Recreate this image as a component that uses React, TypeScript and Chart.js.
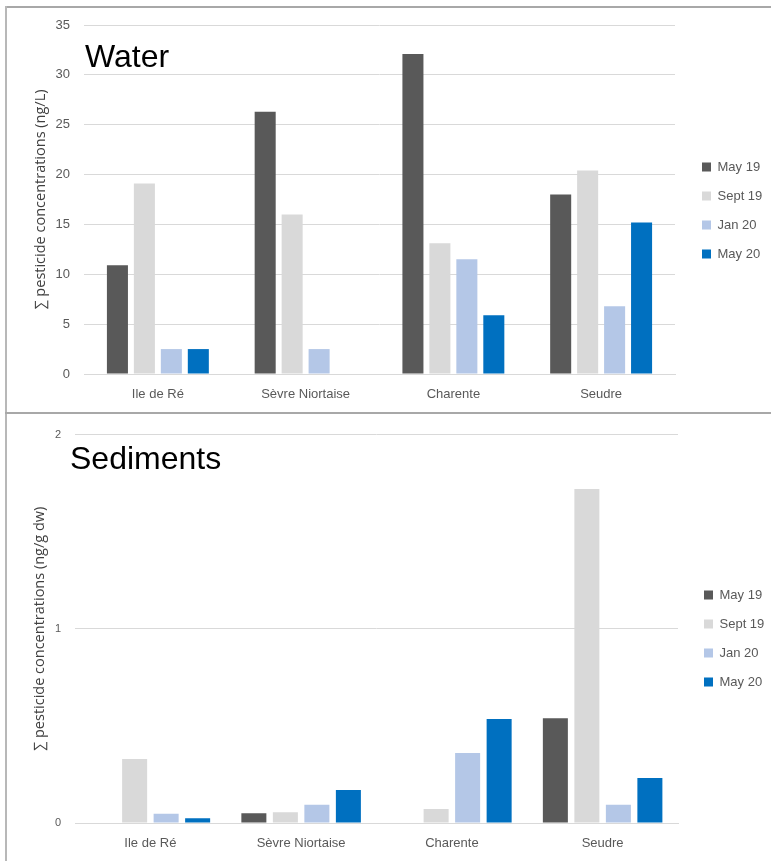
import React, { useEffect, useRef } from "react";
import { Chart, registerables } from "chart.js";

Chart.register(...registerables);

// ---------- data ----------
const categories = ["Ile de Ré", "Sèvre Niortaise", "Charente", "Seudre"];
const seriesNames = ["May 19", "Sept 19", "Jan 20", "May 20"];

const waterMay19 = [10.9, 26.3, 32.1, 18.0];
const waterSept19 = [19.1, 16.0, 13.1, 20.4];
const waterJan20 = [2.5, 2.5, 11.5, 6.8];
const waterMay20 = [2.5, null, 5.9, 15.2];

const sedMay19 = [null, 0.05, null, 0.54];
const sedSept19 = [0.33, 0.055, 0.072, 1.72];
const sedJan20 = [0.048, 0.094, 0.36, 0.094];
const sedMay20 = [0.024, 0.17, 0.535, 0.232];

const waterAxisMax = 35;
const waterAxisStep = 5;
const sedAxisMax = 2;
const sedAxisStep = 1;

const waterAxisTitle = "∑ pesticide concentrations (ng/L)";
const sedAxisTitle = "∑ pesticide concentrations (ng/g dw)";

// ---------- styles ----------
const seriesColors = ["#595959", "#d9d9d9", "#b4c7e7", "#0070c0"];
const FONT = "'Liberation Sans', Arial, sans-serif";
const TITLE_FONT = "'Open Sans', 'Noto Sans', sans-serif";
const TEXT_GRAY = "#595959";
const GRID = "#d9d9d9";

type PanelProps = {
  top: number;
  height: number;
  series: (number | null)[][];
  yMax: number;
  yStep: number;
  yTitle: string;
  plotLeft: number;
  plotRight: number;
  plotTop: number;
  xAxisHeight: number;
  yTickSize: number;
  yTitleCenterX: number;
  categoryPct: number;
  barPct: number;
  legendBoxX: number;
  legendFirstY: number;
};

function Panel(p: PanelProps) {
  const ref = useRef<HTMLCanvasElement | null>(null);
  useEffect(() => {
    if (!ref.current) return;
    const W = 771;
    const legendWidth = W - p.plotRight;
    const legendPadding = 16;
    const legendFontSize = 13;
    const placer = {
      id: "legendPlacer",
      beforeLayout(chart: any) {
        const lg = chart.legend;
        if (lg && !lg.__wrapped) {
          const orig = lg.fit;
          lg.fit = function () {
            orig.call(this);
            this.width = legendWidth;
          };
          lg.__wrapped = true;
        }
      },
      afterLayout(chart: any) {
        const lg = chart.legend;
        if (!lg) return;
        lg.left = p.legendBoxX - legendPadding;
        lg.right = lg.left + lg.width;
        lg.top = p.legendFirstY - legendFontSize / 2 - legendPadding;
        lg.bottom = lg.top + 200;
      },
    };
    const titleSize = 14.5;
    const titleLine = titleSize * 1.2;
    const chart = new Chart(ref.current, {
      type: "bar",
      data: {
        labels: categories,
        datasets: p.series.map((s, i) => ({
          label: seriesNames[i],
          data: s as any,
          backgroundColor: seriesColors[i],
          borderWidth: 0,
          categoryPercentage: p.categoryPct,
          barPercentage: p.barPct,
        })),
      },
      options: {
        animation: false,
        responsive: true,
        maintainAspectRatio: false,
        layout: { padding: { left: 0, right: 0, top: p.plotTop, bottom: 0 } },
        plugins: {
          legend: {
            position: "right",
            align: "start",
            labels: {
              boxWidth: 9,
              boxHeight: 9,
              padding: legendPadding,
              color: TEXT_GRAY,
              font: { family: FONT, size: legendFontSize },
            },
          },
          tooltip: { enabled: false },
        },
        scales: {
          x: {
            grid: { display: false, drawTicks: false },
            border: { display: true, color: GRID, width: 1 },
            ticks: { padding: 13, color: TEXT_GRAY, font: { family: FONT, size: 13 } },
            afterFit: (s: any) => {
              s.height = p.xAxisHeight;
            },
          },
          y: {
            min: 0,
            max: p.yMax,
            ticks: {
              stepSize: p.yStep,
              padding: 14,
              color: TEXT_GRAY,
              font: { family: FONT, size: p.yTickSize },
            },
            grid: { color: GRID, drawTicks: false, lineWidth: 1 },
            border: { display: false },
            title: {
              display: true,
              text: p.yTitle,
              color: "#404040",
              font: { family: TITLE_FONT, size: titleSize },
              padding: { top: p.yTitleCenterX - titleLine / 2, bottom: 0 },
            },
            afterFit: (s: any) => {
              s.width = p.plotLeft;
            },
          },
        },
      },
      plugins: [placer as any],
    });
    return () => chart.destroy();
  }, []);
  return (
    <div
      style={{
        position: "absolute",
        left: 0,
        top: p.top,
        width: 771,
        height: p.height,
      }}
    >
      <canvas ref={ref} />
    </div>
  );
}

const titleStyle: React.CSSProperties = {
  position: "absolute",
  fontFamily: FONT,
  fontSize: 32,
  lineHeight: 1,
  color: "#000",
  whiteSpace: "nowrap",
  pointerEvents: "none",
};

export default function App() {
  return (
    <div
      style={{
        position: "absolute",
        left: 0,
        top: 0,
        width: 771,
        height: 861,
        background: "#fff",
        overflow: "hidden",
      }}
    >
      <Panel
        top={0}
        height={412}
        series={[waterMay19, waterSept19, waterJan20, waterMay20]}
        yMax={waterAxisMax}
        yStep={waterAxisStep}
        yTitle={waterAxisTitle}
        plotLeft={84}
        plotRight={675}
        plotTop={25}
        xAxisHeight={38}
        yTickSize={13}
        yTitleCenterX={41}
        categoryPct={0.73}
        barPct={0.78}
        legendBoxX={702}
        legendFirstY={167}
      />
      <Panel
        top={414}
        height={447}
        series={[sedMay19, sedSept19, sedJan20, sedMay20]}
        yMax={sedAxisMax}
        yStep={sedAxisStep}
        yTitle={sedAxisTitle}
        plotLeft={75}
        plotRight={678}
        plotTop={18}
        xAxisHeight={38}
        yTickSize={11}
        yTitleCenterX={40}
        categoryPct={0.836}
        barPct={0.794}
        legendBoxX={704}
        legendFirstY={181}
      />
      <div style={{ ...titleStyle, left: 85, top: 40 }}>Water</div>
      <div style={{ ...titleStyle, left: 70, top: 442 }}>Sediments</div>
      {/* panel frame lines */}
      <div style={{ position: "absolute", left: 5, top: 6, width: 766, height: 2, background: "#a8a8a8" }} />
      <div style={{ position: "absolute", left: 5, top: 6, width: 2, height: 855, background: "#b8b8b8" }} />
      <div style={{ position: "absolute", left: 5, top: 412, width: 766, height: 2, background: "#a8a8a8" }} />
    </div>
  );
}
